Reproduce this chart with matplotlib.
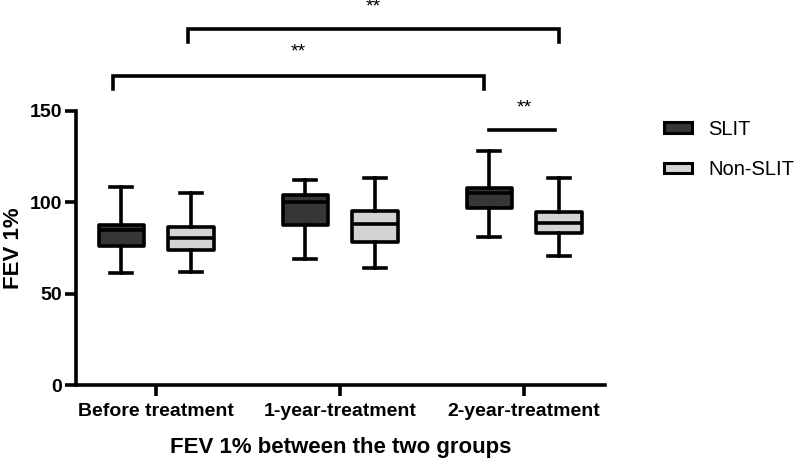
import matplotlib
matplotlib.use("Agg")
import matplotlib.pyplot as plt
from matplotlib.patches import Patch

plt.rcParams['font.family'] = ['Liberation Sans', 'DejaVu Sans']

groups = ["Before treatment", "1-year-treatment", "2-year-treatment"]
series = ["SLIT", "Non-SLIT"]
# five-number summaries per group: whisker low, Q1, median, Q3, whisker high
slit_lo = [61, 69, 81]
slit_q1 = [76, 87.5, 96.5]
slit_med = [84.5, 100, 105]
slit_q3 = [87.5, 104, 107.5]
slit_hi = [108, 112, 128]
non_lo = [62, 64, 70.5]
non_q1 = [74, 78, 83]
non_med = [80.5, 88, 88.5]
non_q3 = [86.5, 95, 94.5]
non_hi = [105, 113, 113]
yticks = [0, 50, 100, 150]
sig_label = "**"

colors = ["#363636", "#d4d4d4"]
W, H = 797, 461
fig = plt.figure(figsize=(W / 100, H / 100), dpi=100)
ax = fig.add_axes([76 / W, 1 - 385 / H, (605 - 76) / W, (385 - 110.5) / H])

offset = 0.19
bw = 0.245
lw = 2.6

def stats(lo, q1, med, q3, hi):
    return [dict(whislo=a, q1=b, med=c, q3=d, whishi=e, fliers=[])
            for a, b, c, d, e in zip(lo, q1, med, q3, hi)]

for k, (st, c) in enumerate([(stats(slit_lo, slit_q1, slit_med, slit_q3, slit_hi), colors[0]),
                             (stats(non_lo, non_q1, non_med, non_q3, non_hi), colors[1])]):
    pos = [i + (-offset if k == 0 else offset) for i in range(len(groups))]
    ax.bxp(st, positions=pos, widths=bw, patch_artist=True, showfliers=False,
           capwidths=0.12,
           boxprops=dict(facecolor=c, edgecolor='black', linewidth=lw, joinstyle='round'),
           medianprops=dict(color='black', linewidth=lw),
           whiskerprops=dict(color='black', linewidth=lw),
           capprops=dict(color='black', linewidth=lw))

ax.set_xlim(-0.435, 2.44)
ax.set_ylim(0, 150)
ax.set_yticks(yticks)
ax.set_xticks(range(len(groups)))
ax.set_xticklabels(groups, fontsize=14, fontweight='bold')
ax.set_yticklabels([str(t) for t in yticks], fontsize=14, fontweight='bold')
for s in ['top', 'right']:
    ax.spines[s].set_visible(False)
for s in ['left', 'bottom']:
    ax.spines[s].set_linewidth(2.6)
ax.tick_params(axis='both', width=2.6, length=8, pad=2)
ax.tick_params(axis='x', pad=5)
ax.set_xlabel("FEV 1% between the two groups", fontsize=16, fontweight='bold', labelpad=12)
ax.set_ylabel("FEV 1%", fontsize=16, fontweight='bold', labelpad=4)

# significance annotations
def bracket(x1, x2, y, drop, ty):
    ax.plot([x1, x1, x2, x2], [y - drop, y, y, y - drop], color='black', lw=2.6,
            clip_on=False, solid_joinstyle='miter')
    ax.text((x1 + x2) / 2, ty, sig_label, ha='center', va='center', fontsize=14, clip_on=False)

bracket(0 - offset - 0.045, 2 - offset - 0.025, 169, 7, 182)
bracket(0 + offset - 0.015, 2 + offset, 194.7, 7, 206.5)
ax.plot([2 - offset, 2 + offset - 0.02], [139.6, 139.6], color='black', lw=2.6, clip_on=False)
ax.text(2, 151.5, sig_label, ha='center', va='center', fontsize=14, clip_on=False)

handles = [Patch(facecolor=c, edgecolor='black', linewidth=2.2) for c in colors]
fig.legend(handles, series, loc='upper left', bbox_to_anchor=(656 / W, 1 - 112 / H),
           frameon=False, fontsize=14.5, handlelength=1.4, handleheight=0.45,
           labelspacing=1.05, handletextpad=0.8, borderaxespad=0)

fig.savefig("out.png", dpi=100)
